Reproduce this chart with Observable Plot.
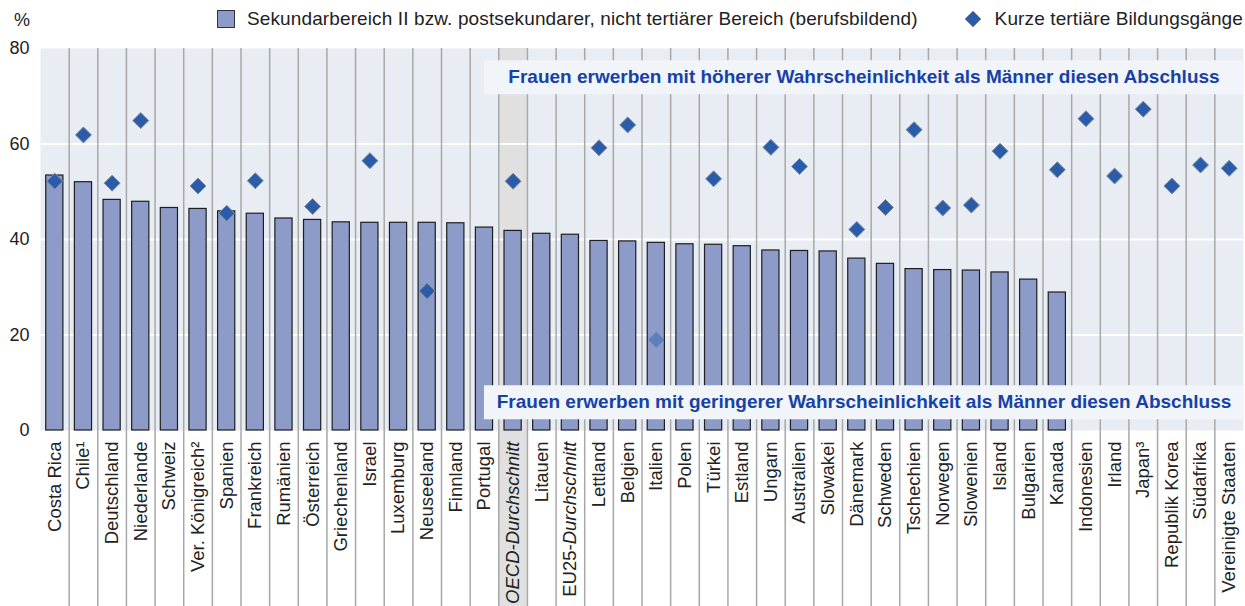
<!DOCTYPE html>
<html>
<head>
<meta charset="utf-8">
<script src="https://cdn.jsdelivr.net/npm/d3@7"></script>
<script src="https://cdn.jsdelivr.net/npm/@observablehq/plot@0.6"></script>
<style>
  body { margin: 0; background: #fff; font-family: "Liberation Sans", Arial, sans-serif; color: #222; }
  #wrap { width: 1245px; }
  #legend { position: relative; width: 1245px; height: 38px; font-size: 19px; letter-spacing: 0.12px; }
  #legend .pct { position: absolute; left: 14px; top: 0; height: 38px; line-height: 40px; font-size: 18px; letter-spacing: 0; }
  #legend .items { position: absolute; right: 2px; top: 0; height: 38px; display: flex; align-items: center; white-space: nowrap; }
  #legend .sq { display: inline-block; width: 16px; height: 16px; background: #8c9bc8; border: 1px solid #333; margin-right: 12px; }
  #legend .dia { margin-left: 46px; margin-right: 13px; display: block; }
  #chart svg { display: block; }
</style>
</head>
<body>
<div id="wrap">
  <div id="legend"></div>
  <div id="chart"></div>
</div>
<script>
// ---- Daten ----
const kategorien = ["Costa Rica","Chile¹","Deutschland","Niederlande","Schweiz","Ver. Königreich²","Spanien","Frankreich","Rumänien","Österreich","Griechenland","Israel","Luxemburg","Neuseeland","Finnland","Portugal","OECD-Durchschnitt","Litauen","EU25-Durchschnitt","Lettland","Belgien","Italien","Polen","Türkei","Estland","Ungarn","Australien","Slowakei","Dänemark","Schweden","Tschechien","Norwegen","Slowenien","Island","Bulgarien","Kanada","Indonesien","Irland","Japan³","Republik Korea","Südafrika","Vereinigte Staaten"];

const berufsbildend = [53.4, 52.0, 48.3, 47.9, 46.6, 46.4, 45.9, 45.4, 44.4, 44.1, 43.6, 43.5, 43.5, 43.5, 43.4, 42.5, 41.8, 41.2, 41.0, 39.7, 39.6, 39.3, 39.0, 38.9, 38.6, 37.7, 37.6, 37.5, 36.0, 34.9, 33.8, 33.6, 33.5, 33.1, 31.6, 28.9, null, null, null, null, null, null];

const kurzTertiaer = [52.2, 61.9, 51.8, 64.9, null, 51.2, 45.5, 52.3, null, 46.9, null, 56.5, null, 29.2, null, null, 52.2, null, null, 59.2, 64.0, 19.0, null, 52.7, null, 59.3, 55.3, null, 42.1, 46.7, 63.0, 46.6, 47.2, 58.5, null, 54.6, 65.3, 53.3, 67.3, 51.2, 55.6, 54.9];

const blasseWerte = ["Italien"];

const serienNamen = ["Sekundarbereich II bzw. postsekundarer, nicht tertiärer Bereich (berufsbildend)", "Kurze tertiäre Bildungsgänge"];

const yTicks = [0, 20, 40, 60, 80];
const gitterY = [20, 40, 60];

const bannerTexte = ["Frauen erwerben mit höherer Wahrscheinlichkeit als Männer diesen Abschluss", "Frauen erwerben mit geringerer Wahrscheinlichkeit als Männer diesen Abschluss"];
const bannerY = [74.0, 5.9];
const bannerStart = "Portugal";
const hervorgehoben = "OECD-Durchschnitt";

// ---- Farben ----
const C = { bg: "#e8ecf3", bar: "#8c9bc8", barStroke: "#1e1e1e", dia: "#2a5caa", diaStroke: "#8a8f99", sep: "#a8a8a8", oecd: "#e0e0e0", banner: "#f1f4f9", bannerText: "#1642a6" };

// ---- Legende ----
const legend = document.getElementById("legend");
legend.innerHTML = `<span class="pct">%</span>
<div class="items">
  <span class="sq"></span><span>${serienNamen[0]}</span>
  <svg class="dia" width="18" height="18" viewBox="-9 -9 18 18"><path d="M0,-8L8,0L0,8L-8,0Z" fill="${C.dia}" stroke="${C.diaStroke}" stroke-width="1"/></svg>
  <span>${serienNamen[1]}</span>
</div>`;

// ---- Diagramm ----
const W = 1245, H = 568, mL = 40, mR = 2, mT = 10, mB = 176;
const xOpts = {type: "band", domain: kategorien, paddingInner: 0.4, paddingOuter: 0.2, round: false};
const xs = Plot.scale({x: {...xOpts, range: [mL, W - mR]}});
const step = xs.step, bw = xs.bandwidth;
const bannerLeft = xs.apply(bannerStart) + bw / 2;

const barData = kategorien.map((k, i) => ({land: k, wert: berufsbildend[i]})).filter(d => d.wert != null);
const dotData = kategorien.map((k, i) => ({land: k, wert: kurzTertiaer[i]})).filter(d => d.wert != null);

const plot = Plot.plot({
  width: W, height: H,
  marginLeft: mL, marginRight: mR, marginTop: mT, marginBottom: mB,
  style: {fontFamily: "'Liberation Sans', Arial, sans-serif", fontSize: "18px", color: "#222", background: "white"},
  x: {...xOpts, label: null},
  y: {domain: [0, 80], label: null},
  marks: [
    Plot.frame({fill: C.bg, stroke: "none"}),
    Plot.barY([hervorgehoben], {x: d => d, y1: 0, y2: 80, fill: C.oecd, insetLeft: -(step - bw) / 2, insetRight: -(step - bw) / 2, insetBottom: -mB}),
    Plot.ruleY(gitterY, {stroke: "white", strokeWidth: 2.2}),
    Plot.ruleX(kategorien.slice(1), {x: d => d, dx: -step / 2, stroke: C.sep, strokeWidth: 1.5, insetBottom: -mB}),
    Plot.barY(barData, {x: "land", y: "wert", fill: C.bar, stroke: C.barStroke, strokeWidth: 1.2}),
    Plot.ruleY(bannerY, {stroke: C.banner, strokeWidth: 34, insetLeft: bannerLeft - mL}),
    Plot.dot(dotData, {x: "land", y: "wert", symbol: "diamond2", r: 7.2, fill: C.dia, stroke: C.diaStroke, strokeWidth: 1,
      fillOpacity: d => blasseWerte.includes(d.land) ? 0.45 : 1, strokeOpacity: d => blasseWerte.includes(d.land) ? 0.2 : 1}),
    Plot.text(bannerTexte, {y: (d, i) => bannerY[i], text: d => d, frameAnchor: "right", dx: -(W - mR - bannerLeft) / 2, textAnchor: "middle", fontWeight: "bold", fontSize: 19, fill: C.bannerText}),
    Plot.axisY({ticks: yTicks, tickSize: 0, tickPadding: 11, fontSize: 18, label: null}),
    Plot.axisX({tickSize: 0, tickRotate: -90, tickPadding: 11, fontSize: 18.5, label: null})
  ]
});
document.getElementById("chart").appendChild(plot);

// Kursivschrift für Durchschnittswerte
d3.select(plot).selectAll("g[aria-label='x-axis tick label'] text").each(function() {
  const t = this.textContent;
  if (t === "OECD-Durchschnitt") d3.select(this).style("font-style", "italic");
  else if (t === "EU25-Durchschnitt") {
    const el = d3.select(this);
    el.text(null);
    el.append("tspan").text("EU25-");
    el.append("tspan").style("font-style", "italic").text("Durchschnitt");
  }
});
</script>
</body>
</html>
